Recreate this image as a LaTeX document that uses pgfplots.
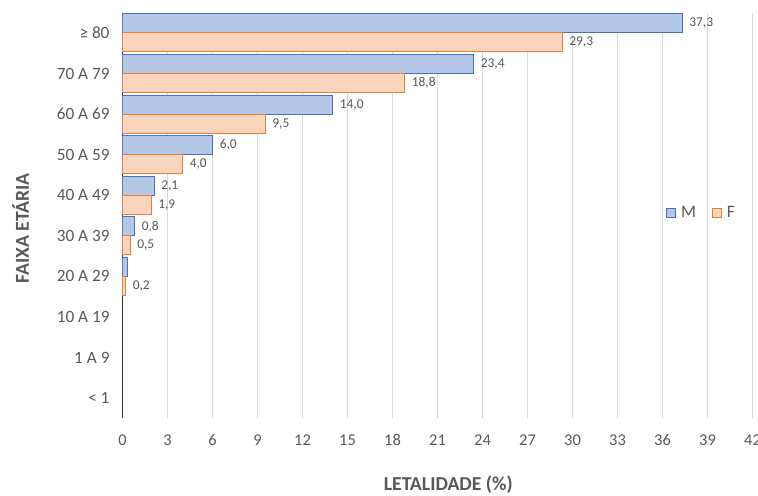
\documentclass[border=0pt]{standalone}
\usepackage{pgfplots}
\pgfplotsset{compat=1.18}
\usepackage{fontspec}
\setmainfont{Carlito}
\definecolor{mblue}{HTML}{4472C4}
\definecolor{mbluef}{HTML}{B4C7E7}
\definecolor{forange}{HTML}{ED7D31}
\definecolor{forangef}{HTML}{FAD4BC}
\definecolor{txt}{HTML}{595959}
\definecolor{gridc}{HTML}{D9D9D9}
\begin{document}
\begin{tikzpicture}
\begin{axis}[
  at={(0,0)}, anchor=south west,
  scale only axis, width=630bp, height=405.6bp,
  xbar,
  xmin=0, xmax=42, xtick={0,3,...,42},
  ymin=-0.5, ymax=9.5,
  ytick={0,...,9},
  yticklabels={< 1, 1 A 9, 10 A 19, 20 A 29, 30 A 39, 40 A 49, 50 A 59, 60 A 69, 70 A 79, ≥ 80},
  /pgf/number format/assume math mode=true,
  axis lines*=left,
  x axis line style={draw=none},
  y axis line style={draw=black!80, line width=0.9pt},
  major tick length=0pt,
  xmajorgrids, major grid style={gridc, line width=0.9pt},
  x tick label style={font=\fontsize{16.5}{18}\selectfont, text=txt, anchor=center, yshift=-21.7bp},
  y tick label style={font=\fontsize{17.3}{19}\selectfont, text=txt, anchor=east, xshift=-9.5bp},
  xlabel={LETALIDADE (\%)},
  ylabel={FAIXA ETÁRIA},
  every axis x label/.style={at={(axis description cs:0.517,0)}, yshift=-66.5bp, anchor=center, font=\bfseries\fontsize{19.8}{21}\selectfont, text=txt},
  every axis y label/.style={at={(axis description cs:0,0.468)}, xshift=-102bp, rotate=90, anchor=center, font=\bfseries\fontsize{19.8}{21}\selectfont, text=txt},
  bar width=0.468,
  point meta=explicit symbolic,
  nodes near coords,
  nodes near coords style={font=\fontsize{13.5}{15}\selectfont, text=txt, anchor=west, xshift=3.5bp},
  legend style={at={(axis description cs:0.858,0.506)}, anchor=west, draw=none, fill=none,
    font=\fontsize{17.5}{19}\selectfont, text=txt,
    /tikz/every odd column/.append style={column sep=3bp},
    /tikz/every even column/.append style={column sep=14bp}},
  legend columns=2,
  legend image code/.code={\draw[#1, line width=0.9pt] (0bp,-4.5bp) rectangle (9bp,4.5bp);},
]
\addplot[draw=mblue, fill=mbluef, line width=1pt, bar shift=0.234] table[x=v, y=c, meta=lab] {
c v lab
9 37.3 37,3
8 23.4 23,4
7 14.0 14,0
6 6.0 6,0
5 2.1 2,1
4 0.8 0,8
3 0.3 {}
};
\addlegendentry{M}
\addplot[draw=forange, fill=forangef, line width=1pt, bar shift=-0.234] table[x=v, y=c, meta=lab] {
c v lab
9 29.3 29,3
8 18.8 18,8
7 9.5 9,5
6 4.0 4,0
5 1.9 1,9
4 0.5 0,5
3 0.2 0,2
};
\addlegendentry{F}
\end{axis}
\pgfresetboundingbox
\useasboundingbox (-122.5bp,-77.7bp) rectangle (635.5bp,418.3bp);
\end{tikzpicture}
\end{document}
